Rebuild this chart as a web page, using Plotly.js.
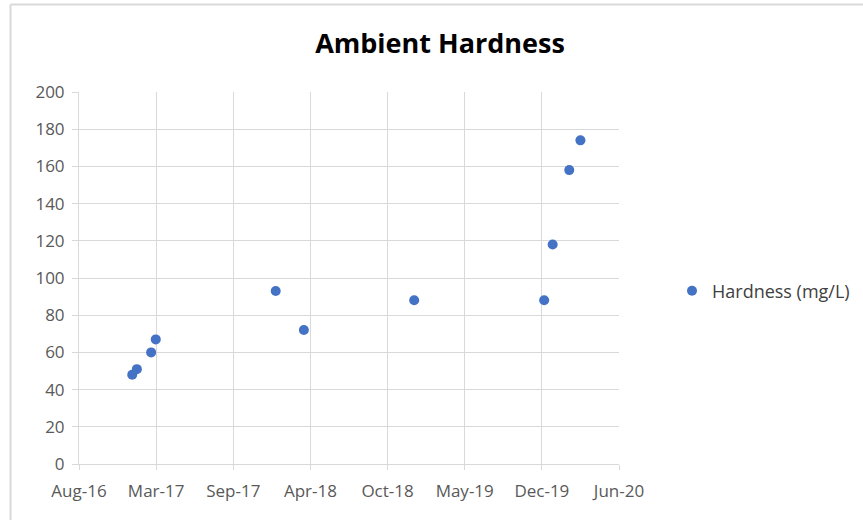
<!DOCTYPE html>
<html>
<head>
<meta charset="utf-8">
<script src="https://cdn.plot.ly/plotly-3.0.1.min.js"></script>
<style>html,body{margin:0;padding:0;background:#fff;}#chart{width:863px;height:520px;}</style>
</head>
<body>
<div id="chart"></div>
<script>
// Data
const sampleDates = ['2017-01-03','2017-01-15','2017-02-21','2017-03-05','2018-01-10','2018-03-24','2019-01-04','2019-12-07','2019-12-29','2020-02-10','2020-03-10'];
const hardness = [48, 51, 60, 67, 93, 72, 88, 88, 118, 158, 174];
const seriesName = 'Hardness (mg/L)';
const chartTitle = 'Ambient Hardness';
const xTickVals = ['2016-08-18','2017-03-06','2017-09-22','2018-04-10','2018-10-27','2019-05-15','2019-12-01','2020-06-18'];
const xTickText = ['Aug-16','Mar-17','Sep-17','Apr-18','Oct-18','May-19','Dec-19','Jun-20'];
const yTickVals = [0,20,40,60,80,100,120,140,160,180,200];

const grid = '#d9d9d9';
const tickFont = {family: 'Open Sans, sans-serif', size: 17, color: '#595959'};

const trace = {
  type: 'scatter', mode: 'markers', name: seriesName,
  x: sampleDates, y: hardness,
  marker: {color: '#4472C4', size: 10},
  showlegend: true
};

const L = 79, W = 540, T = 92, H = 372;
const bx = (10.5 - L) / W, by = (T + H - 4.5) / H;

const layout = {
  width: 863, height: 520,
  margin: {l: L, r: 863 - L - W, t: T, b: 520 - T - H, pad: 0},
  paper_bgcolor: '#fff', plot_bgcolor: '#fff',
  title: {text: '<b>' + chartTitle + '</b>', font: {family: 'Open Sans, sans-serif', size: 27, color: '#000'},
          x: 440/863, xref: 'container', xanchor: 'center', y: 1 - 44/520, yref: 'container', yanchor: 'middle'},
  xaxis: {
    type: 'date', range: [xTickVals[0], xTickVals[xTickVals.length-1]],
    tickmode: 'array', tickvals: xTickVals, ticktext: xTickText,
    showgrid: true, gridcolor: grid, gridwidth: 1,
    showline: true, linecolor: grid, linewidth: 1,
    ticks: 'outside', ticklen: 5, tickcolor: grid, tickwidth: 1,
    ticklabelstandoff: 7,
    tickfont: tickFont, zeroline: false, fixedrange: true
  },
  yaxis: {
    range: [0, 200], tickmode: 'array', tickvals: yTickVals,
    showgrid: true, gridcolor: grid, gridwidth: 1,
    showline: true, linecolor: grid, linewidth: 1,
    ticks: 'outside', ticklen: 6, tickcolor: grid, tickwidth: 1,
    ticklabelstandoff: 4,
    tickfont: tickFont, zeroline: false, fixedrange: true
  },
  legend: {x: 672/863, xref: 'container', xanchor: 'left', y: 1 - 291/520, yref: 'container', yanchor: 'middle',
           font: {family: 'Open Sans, sans-serif', size: 18, color: '#404040'}, bgcolor: 'rgba(0,0,0,0)', itemwidth: 30},
  shapes: [
    {type: 'line', xref: 'paper', yref: 'paper', x0: bx, x1: bx, y0: -0.3, y1: by, line: {color: grid, width: 2}},
    {type: 'line', xref: 'paper', yref: 'paper', x0: bx, x1: 1.6, y0: by, y1: by, line: {color: grid, width: 2}}
  ]
};

Plotly.newPlot('chart', [trace], layout, {displayModeBar: false, staticPlot: true});
</script>
</body>
</html>
